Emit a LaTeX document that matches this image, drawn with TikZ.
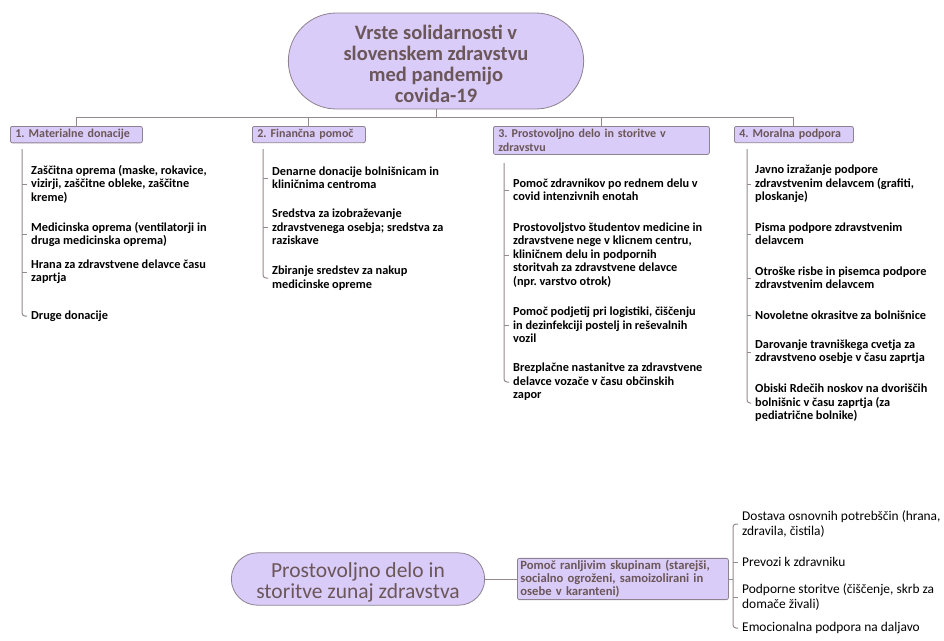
\documentclass[tikz,border=0pt]{standalone}
\usepackage{fontspec}
\setmainfont{Carlito}
\usetikzlibrary{shapes}
\definecolor{lila}{HTML}{D9CCF8}
\definecolor{rob}{HTML}{8E8290}
\definecolor{rjav}{HTML}{6B5659}
\definecolor{crta}{HTML}{958A8B}
\tikzstyle{koren}=[rounded rectangle,draw=rob,fill=lila,thick,text=rjav,align=center]
\tikzstyle{veja}=[rectangle,rounded corners=2pt,draw=rob,fill=lila,thick,text=rjav,align=left,
  font=\bfseries\fontsize{12}{13.5}\selectfont,inner xsep=5pt,inner ysep=3pt,anchor=north west]
\tikzstyle{list}=[anchor=west,align=left,inner xsep=4pt,inner ysep=1pt,
  font=\bfseries\fontsize{12.3}{13.4}\selectfont]
\tikzstyle{list2}=[anchor=west,align=left,inner xsep=4pt,inner ysep=1pt,
  font=\fontsize{13.4}{15}\selectfont]
\tikzstyle{vod}=[draw=crta,line width=1pt]
\frenchspacing

\begin{document}
\begin{tikzpicture}[x=1pt,y=-1pt]
\useasboundingbox (0,0) rectangle (944,640);
% glavni pojem
\node[koren,minimum width=302,minimum height=96,font=\bfseries\fontsize{20.5}{21}\selectfont] (koren) at (436,61)
  {\rule{0pt}{21pt}Vrste solidarnosti v\\slovenskem zdravstvu\\med pandemijo\\covida-19};
\coordinate (bus) at (436,117);
% veje
\node[veja,text width=122] (b1) at (10,126) {1. Materialne donacije};
\node[veja,text width=103] (b2) at (252,126) {2. Finančna pomoč};
\node[veja,text width=206] (b3) at (493,126) {3. Prostovoljno delo in storitve v\\zdravstvu};
\node[veja,text width=109] (b4) at (734,126) {4. Moralna podpora};
\draw[vod] (koren.south) -- (bus);
\foreach \b in {b1,b2,b3,b4}
  \draw[vod] (bus) -| (\b.north);
% 1. materialne donacije
\node[list] (m1a) at (27,184) {Zaščitna oprema (maske, rokavice,\\vizirji, zaščitne obleke, zaščitne\\kreme)};
\node[list] (m1b) at (27,234.5) {Medicinska oprema (ventilatorji in\\druga medicinska oprema)};
\node[list] (m1c) at (27,272) {Hrana za zdravstvene delavce času\\zaprtja};
\node[list] (m1d) at (27,316) {Druge donacije};
% 2. financna pomoc
\node[list] (m2a) at (268,178) {Denarne donacije bolnišnicam in\\kliničnima centroma};
\node[list] (m2b) at (268,227) {Sredstva za izobraževanje\\zdravstvenega osebja; sredstva za\\raziskave};
\node[list] (m2c) at (268,278) {Zbiranje sredstev za nakup\\medicinske opreme};
% 3. prostovoljno delo v zdravstvu
\node[list] (m3a) at (509,190) {Pomoč zdravnikov po rednem delu v\\covid intenzivnih enotah};
\node[list] (m3b) at (509,255) {Prostovoljstvo študentov medicine in\\zdravstvene nege v klicnem centru,\\kliničnem delu in podpornih\\storitvah za zdravstvene delavce\\(npr. varstvo otrok)};
\node[list] (m3c) at (509,325) {Pomoč podjetij pri logistiki, čiščenju\\in dezinfekciji postelj in reševalnih\\vozil};
\node[list] (m3d) at (509,382) {Brezplačne nastanitve za zdravstvene\\delavce vozače v času občinskih\\zapor};
% 4. moralna podpora
\node[list] (m4a) at (751,184) {Javno izražanje podpore\\zdravstvenim delavcem (grafiti,\\ploskanje)};
\node[list] (m4b) at (751,234) {Pisma podpore zdravstvenim\\delavcem};
\node[list] (m4c) at (751,278) {Otroške risbe in pisemca podpore\\zdravstvenim delavcem};
\node[list] (m4d) at (751,315) {Novoletne okrasitve za bolnišnice};
\node[list] (m4e) at (751,352) {Darovanje travniškega cvetja za\\zdravstveno osebje v času zaprtja};
\node[list] (m4f) at (751,403) {Obiski Rdečih noskov na dvoriščih\\bolnišnic v času zaprtja (za\\pediatrične bolnike)};
\coordinate (s1) at (22,149);
\coordinate (s2) at (263,149);
\coordinate (s3) at (504,163);
\coordinate (s4) at (747,149);
\draw[vod,rounded corners=3pt] (s1) |- (m1d.west);
\draw[vod,rounded corners=3pt] (s2) |- (m2c.west);
\draw[vod,rounded corners=3pt] (s3) |- (m3d.west);
\draw[vod,rounded corners=3pt] (s4) |- (m4f.west);
\foreach \m in {m1a,m1b,m1c} \draw[vod] (s1 |- \m.west) -- (\m.west);
\foreach \m in {m2a,m2b} \draw[vod] (s2 |- \m.west) -- (\m.west);
\foreach \m in {m3a,m3b,m3c} \draw[vod] (s3 |- \m.west) -- (\m.west);
\foreach \m in {m4a,m4b,m4c,m4d,m4e} \draw[vod] (s4 |- \m.west) -- (\m.west);
% prostovoljno delo zunaj zdravstva
\node[koren,minimum width=260,minimum height=52,font=\fontsize{21.5}{21}\selectfont] (koren2) at (358,579)
  {\rule{0pt}{21pt}Prostovoljno delo in\\storitve zunaj zdravstva};
\node[veja,anchor=west,text width=205,inner xsep=3pt,inner ysep=2pt,font=\bfseries\fontsize{12.6}{13}\selectfont] (p) at (517,579)
  {Pomoč ranljivim skupinam (starejši,\\socialno ogroženi, samoizolirani in\\osebe v karanteni)};
\node[list2] (n1) at (738,524) {Dostava osnovnih potrebščin (hrana,\\zdravila, čistila)};
\node[list2] (n2) at (738,562) {Prevozi k zdravniku};
\node[list2] (n3) at (738,597) {Podporne storitve (čiščenje, skrb za\\domače živali)};
\node[list2] (n4) at (738,628) {Emocionalna podpora na daljavo};
\coordinate (brk) at (733,579);
\draw[vod] (koren2.east) -- (p.west);
\draw[vod] (p.east) -- (brk);
\draw[vod,rounded corners=3pt] (n1.west) -| (brk) |- (n4.west);
\foreach \n in {n2,n3} \draw[vod] (brk |- \n.west) -- (\n.west);
\end{tikzpicture}
\end{document}
